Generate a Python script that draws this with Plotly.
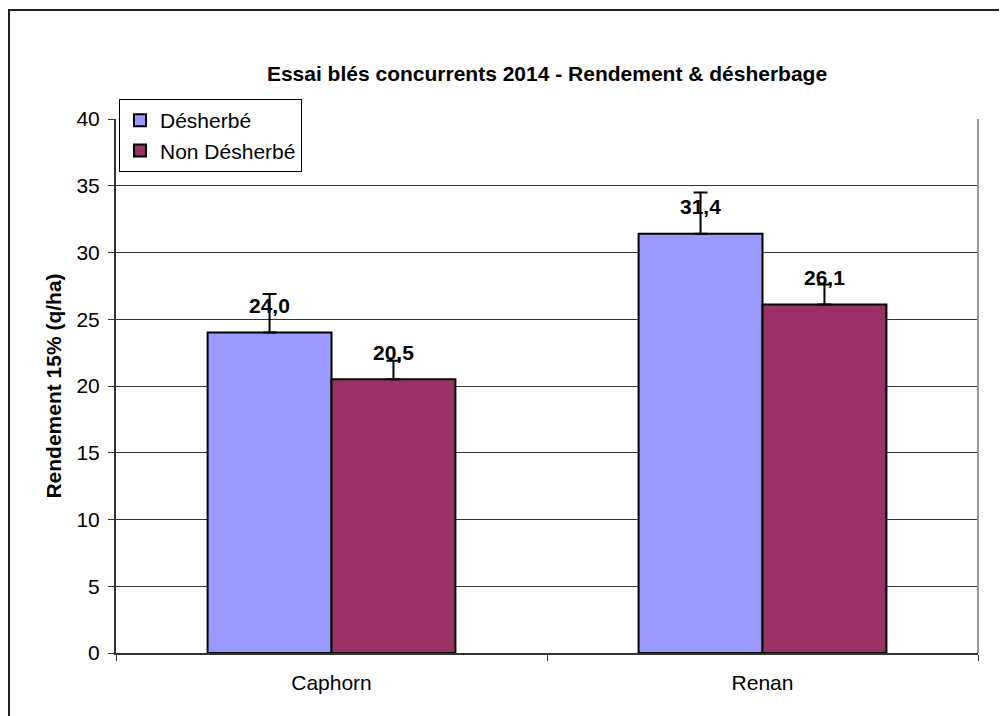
import plotly.graph_objects as go

categories = ["Caphorn", "Renan"]
desherbe = [24.0, 31.4]
non_desherbe = [20.5, 26.1]
err_desherbe = [2.9, 3.1]
err_non_desherbe = [1.4, 1.5]
series_names = ["Désherbé", "Non Désherbé"]
colors = ["#9999FF", "#993366"]

FONT = "Liberation Sans, Arial, sans-serif"
OFF = 8  # page body margin
W, H = 1007, 716
L, R, T, B = 116 - OFF, 29 + OFF, 119 - OFF, 63 + OFF
PW, PH = W - L - R, H - T - B

fig = go.Figure()
for name, vals, errs, col in zip(series_names, [desherbe, non_desherbe],
                                 [err_desherbe, err_non_desherbe], colors):
    fig.add_trace(go.Bar(
        x=categories, y=vals, name=name,
        marker=dict(color=col, line=dict(color="black", width=2)),
        error_y=dict(type="data", array=errs, arrayminus=[0] * len(errs),
                     symmetric=False, color="black", thickness=2, width=7),
    ))

def fmt(v):
    return f"{v:.1f}".replace(".", ",")

for vals, shift in [(desherbe, -62), (non_desherbe, 62)]:
    for c, v in zip(categories, vals):
        fig.add_annotation(x=c, y=v, text=f"<b>{fmt(v)}</b>", showarrow=False,
                           xshift=shift, yshift=27, yanchor="middle",
                           font=dict(family=FONT, size=21, color="black"))

fig.update_layout(
    width=W, height=H,
    margin=dict(l=L, r=R, t=T, b=B, autoexpand=False),
    paper_bgcolor="white", plot_bgcolor="white",
    barmode="group", bargap=0.425, bargroupgap=0,
    separators=", ",
    font=dict(family=FONT, size=21, color="black"),
    title=dict(text="<b>Essai blés concurrents 2014 - Rendement & désherbage</b>",
               x=0.5, xref="paper", xanchor="center",
               y=1 - (74 - OFF) / H, yref="container", yanchor="middle",
               font=dict(family=FONT, size=21, color="black")),
    legend=dict(x=(119 - 116) / PW, y=1 + (119 - 99) / PH,
                xanchor="left", yanchor="top",
                bgcolor="white", bordercolor="black", borderwidth=1,
                font=dict(family=FONT, size=21, color="black"),
                tracegroupgap=0, itemwidth=30),
    showlegend=True,
)
fig.update_xaxes(showline=True, linecolor="#333", linewidth=2, mirror=False,
                 ticks="outside", tickson="boundaries", ticklen=6, tickcolor="#333",
                 ticklabelstandoff=10,
                 tickfont=dict(family=FONT, size=21), showgrid=False)
fig.update_yaxes(range=[0, 40], dtick=5, showline=True, linecolor="#333", linewidth=2,
                 ticks="outside", ticklen=6, tickcolor="#333",
                 ticklabelstandoff=4,
                 showgrid=True, gridcolor="#333", gridwidth=1, zeroline=False,
                 tickfont=dict(family=FONT, size=21),
                 title=dict(text="<b>Rendement 15% (q/ha)</b>", standoff=9,
                            font=dict(family=FONT, size=21)))
# right border of plot area
fig.add_shape(type="line", xref="paper", yref="paper", x0=1, x1=1, y0=0, y1=1,
              line=dict(color="#999", width=2))
# outer chart frame (extends beyond window on right and bottom)
fig.add_shape(type="rect", xref="paper", yref="paper",
              x0=-(116 - 9) / PW, x1=1.2, y0=-0.3, y1=1 + (119 - 10) / PH,
              line=dict(color="#222", width=2))

fig.write_html("out.html")
